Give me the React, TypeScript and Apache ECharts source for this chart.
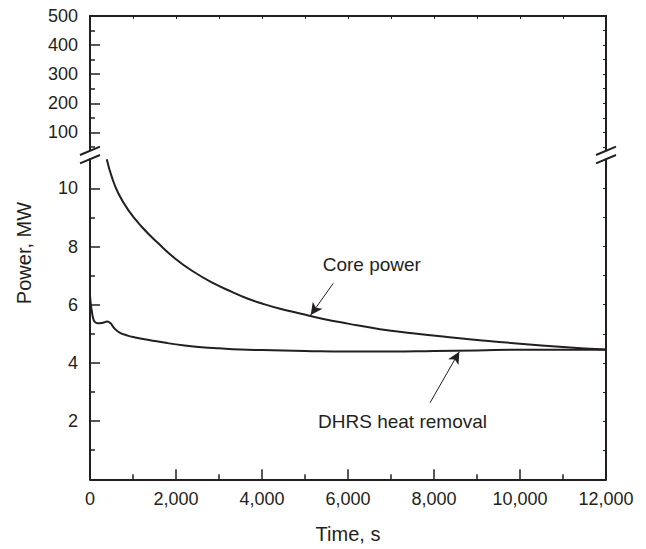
import React, { useEffect, useRef } from "react";
import * as echarts from "echarts";

// ---- data ----
const coreTime = [390, 505, 658, 891, 1202, 1588, 1977, 2400, 2868, 3300, 3644, 4000, 4419, 4884, 5400, 6000, 6744, 7500, 8300, 9000, 10000, 11000, 12000];
const corePower = [11.0, 10.4, 9.83, 9.25, 8.68, 8.11, 7.59, 7.14, 6.74, 6.44, 6.22, 6.04, 5.86, 5.7, 5.52, 5.35, 5.16, 5.02, 4.89, 4.79, 4.66, 4.55, 4.46];
const dhrsTime = [0, 20, 40, 80, 120, 200, 300, 400, 480, 560, 700, 850, 1000, 1400, 1800, 2200, 2600, 3000, 3500, 4000, 5000, 6000, 7000, 8000, 9000, 10000, 11000, 12000];
const dhrsPower = [6.32, 6.0, 5.8, 5.5, 5.4, 5.36, 5.38, 5.42, 5.36, 5.2, 5.03, 4.95, 4.89, 4.78, 4.68, 4.6, 4.54, 4.5, 4.46, 4.44, 4.41, 4.39, 4.39, 4.41, 4.43, 4.45, 4.45, 4.45];

const upperMajorTicks = [100, 200, 300, 400, 500];
const upperMinorTicks = [50, 150, 250, 350, 450];
const upperRightTicks = [50, 100, 150, 200, 250, 300, 350, 400, 450, 500];
const lowerMajorTicks = [2, 4, 6, 8, 10];
const lowerMinorTicks = [1, 3, 5, 7, 9];
const lowerRightTicks = [1, 2, 3, 4, 5, 6, 7, 8, 9, 10];

const coreArrow = [[5658, 6.735], [5133, 5.646]];
const dhrsArrow = [[7907, 2.63], [8588, 4.385]];

const INK = "#231f20";
const FONT = "Liberation Sans, Arial, sans-serif";

export default function App() {
  const ref = useRef<HTMLDivElement>(null);
  useEffect(() => {
    document.body.style.margin = "0";
    const chart = echarts.init(ref.current!, null, { renderer: "svg" });
    const coreData = coreTime.map((t, i) => [t, corePower[i]]);
    const dhrsData = dhrsTime.map((t, i) => [t, dhrsPower[i]]);

    const yBase = (gridIndex: number, min: number, max: number) => ({
      type: "value",
      gridIndex,
      min,
      max,
      splitLine: { show: false },
    });

    const option: any = {
      animation: false,
      backgroundColor: "#fff",
      grid: [
        { left: 90, right: 40, top: 16, height: 133.8 },
        { left: 90, right: 40, top: 159.2, height: 320.1 },
      ],
      xAxis: [
        {
          type: "value",
          gridIndex: 0,
          position: "top",
          min: 0,
          max: 12000,
          interval: 1000,
          axisLine: { show: true, lineStyle: { color: INK, width: 2 } },
          axisTick: { show: true, inside: true, length: 3, lineStyle: { color: INK, width: 1 } },
          axisLabel: { show: false },
          splitLine: { show: false },
        },
        {
          type: "value",
          gridIndex: 1,
          position: "bottom",
          min: 0,
          max: 12000,
          interval: 2000,
          axisLine: { show: true, lineStyle: { color: INK, width: 2 } },
          axisTick: { show: true, inside: true, length: 10, lineStyle: { color: INK, width: 1.5 } },
          minorTick: { show: true, splitNumber: 2, length: 5, lineStyle: { color: INK, width: 1.5 } },
          axisLabel: {
            color: INK,
            fontSize: 18,
            fontFamily: FONT,
            margin: 11,
            formatter: (v: number) => v.toLocaleString("en-US"),
          },
          splitLine: { show: false },
        },
      ],
      yAxis: [
        {
          ...yBase(0, 40, 500),
          position: "left",
          axisLine: { show: true, lineStyle: { color: INK, width: 2 } },
          axisTick: { show: true, inside: true, length: 10, customValues: upperMajorTicks, lineStyle: { color: INK, width: 1.5 } },
          axisLabel: { show: true, customValues: upperMajorTicks, color: INK, fontSize: 18, fontFamily: FONT, margin: 12 },
        },
        {
          ...yBase(0, 40, 500),
          position: "left",
          axisLine: { show: false },
          axisTick: { show: true, inside: true, length: 5, customValues: upperMinorTicks, lineStyle: { color: INK, width: 1.5 } },
          axisLabel: { show: false },
        },
        {
          ...yBase(0, 40, 500),
          position: "right",
          axisLine: { show: true, lineStyle: { color: INK, width: 2 } },
          axisTick: { show: true, inside: true, length: 3, customValues: upperRightTicks, lineStyle: { color: INK, width: 1 } },
          axisLabel: { show: false },
        },
        {
          ...yBase(1, 0, 11),
          position: "left",
          axisLine: { show: true, lineStyle: { color: INK, width: 2 } },
          axisTick: { show: true, inside: true, length: 10, customValues: lowerMajorTicks, lineStyle: { color: INK, width: 1.5 } },
          axisLabel: { show: true, customValues: lowerMajorTicks, color: INK, fontSize: 18, fontFamily: FONT, margin: 12 },
        },
        {
          ...yBase(1, 0, 11),
          position: "left",
          axisLine: { show: false },
          axisTick: { show: true, inside: true, length: 5, customValues: lowerMinorTicks, lineStyle: { color: INK, width: 1.5 } },
          axisLabel: { show: false },
        },
        {
          ...yBase(1, 0, 11),
          position: "right",
          axisLine: { show: true, lineStyle: { color: INK, width: 2 } },
          axisTick: { show: true, inside: true, length: 3, customValues: lowerRightTicks, lineStyle: { color: INK, width: 1 } },
          axisLabel: { show: false },
        },
      ],
      series: [
        {
          name: "Core power",
          type: "line",
          xAxisIndex: 1,
          yAxisIndex: 3,
          data: coreData,
          showSymbol: false,
          smooth: 0.5,
          lineStyle: { color: INK, width: 2 },
          markLine: {
            silent: true,
            symbol: ["none", "arrow"],
            symbolSize: [9, 12],
            label: { show: false },
            lineStyle: { color: INK, width: 1, type: "solid" },
            data: [[{ coord: coreArrow[0] }, { coord: coreArrow[1] }]],
          },
        },
        {
          name: "DHRS heat removal",
          type: "line",
          xAxisIndex: 1,
          yAxisIndex: 3,
          data: dhrsData,
          showSymbol: false,
          smooth: 0.5,
          lineStyle: { color: INK, width: 2 },
          markLine: {
            silent: true,
            symbol: ["none", "arrow"],
            symbolSize: [9, 12],
            label: { show: false },
            lineStyle: { color: INK, width: 1, type: "solid" },
            data: [[{ coord: dhrsArrow[0] }, { coord: dhrsArrow[1] }]],
          },
        },
      ],
      graphic: [
        { type: "line", shape: { x1: 80, y1: 155, x2: 100, y2: 146.7 }, style: { stroke: INK, lineWidth: 2 } },
        { type: "line", shape: { x1: 80, y1: 163.3, x2: 100, y2: 155 }, style: { stroke: INK, lineWidth: 2 } },
        { type: "line", shape: { x1: 596, y1: 155, x2: 616, y2: 146.7 }, style: { stroke: INK, lineWidth: 2 } },
        { type: "line", shape: { x1: 596, y1: 163.3, x2: 616, y2: 155 }, style: { stroke: INK, lineWidth: 2 } },
        {
          type: "text",
          x: 24,
          y: 253,
          rotation: Math.PI / 2,
          style: { text: "Power, MW", fontSize: 20, fontFamily: FONT, fill: INK, align: "center", verticalAlign: "middle" },
        },
        {
          type: "text",
          x: 348,
          y: 534,
          style: { text: "Time, s", fontSize: 20, fontFamily: FONT, fill: INK, align: "center", verticalAlign: "middle" },
        },
        {
          type: "text",
          x: 322.7,
          y: 264,
          style: { text: "Core power", fontSize: 19, fontFamily: FONT, fill: INK, align: "left", verticalAlign: "middle" },
        },
        {
          type: "text",
          x: 487,
          y: 421,
          style: { text: "DHRS heat removal", fontSize: 19, fontFamily: FONT, fill: INK, align: "right", verticalAlign: "middle" },
        },
      ],
    };
    chart.setOption(option);
    return () => chart.dispose();
  }, []);
  return <div ref={ref} style={{ width: 646, height: 549 }} />;
}
